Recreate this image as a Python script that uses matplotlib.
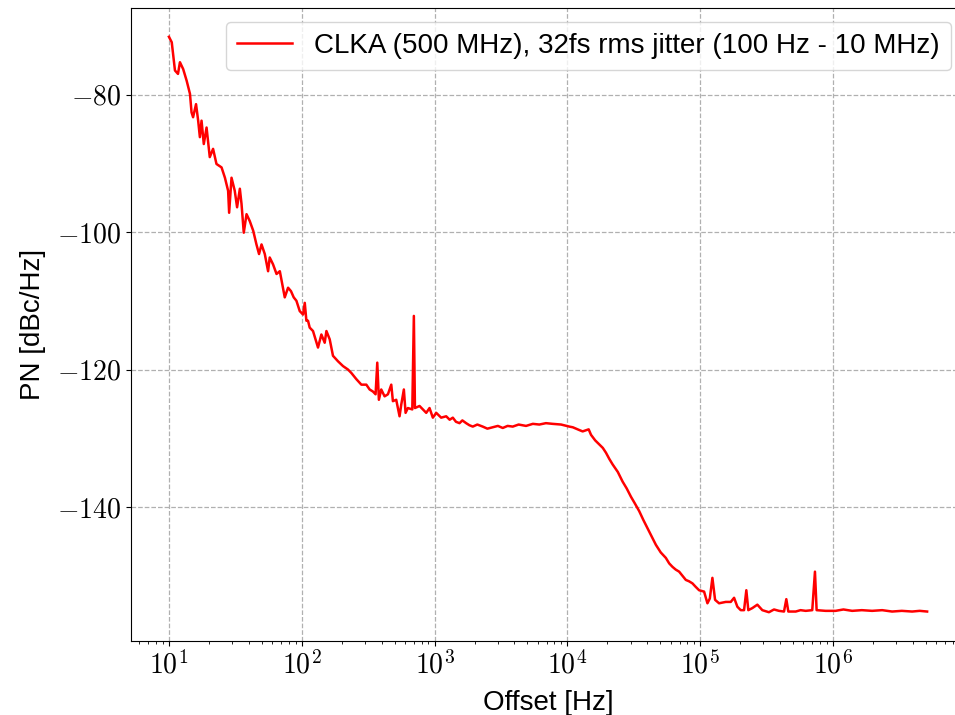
import numpy as np
import matplotlib
matplotlib.use('Agg')
import matplotlib.pyplot as plt
from matplotlib.ticker import FuncFormatter

# phase noise trace
freq = [10, 10.5, 11.1, 11.7, 12.1, 12.8, 13.6, 14.4, 14.8, 15.2, 16.0, 16.6, 17.1, 17.6,
        18.3, 19.2, 20.3, 21.5, 22.8, 24.9, 26.4, 27.9, 28.4, 29.6, 31.3, 32.6, 34.2, 35.2,
        36.6, 38.4, 40.6, 43.1, 45.6, 47.7, 49.8, 52.7, 55.8, 57.4, 60.8, 64.6, 68.4, 74.5,
        78.9, 83.0, 87.0, 91.2, 96.6, 102.3, 105.4, 108.4, 111.5, 114.8, 121.6, 132.6, 140.6,
        148.9, 153.4, 162.4, 171.9, 187.5, 204.6, 223, 236.4, 257.8, 281.2, 306.5, 324.5,
        343.6, 359.8, 370.5, 381, 397, 420.7, 445.6, 472.3, 485.8, 514.7, 545.3, 561.6, 587.5,
        605.3, 629.8, 680, 698.7, 712, 771, 816.5, 866, 916.9, 971,
        1030, 1122, 1224, 1300, 1373, 1450, 1542, 1620, 1730, 1830, 1941, 2100, 2307, 2500,
        2742, 3000, 3263, 3550, 3880, 4300, 4887, 5500, 6152, 6900, 7745, 8970, 10360, 11000,
        11620, 12300, 13040, 14000, 14480, 15080, 16200, 17410, 18500, 19540, 20700, 21930,
        24000, 26070, 28000, 30130, 32300, 34780, 37400, 40170, 43200, 46440, 50500, 55190,
        58500, 61910, 65500, 69500, 73600, 78000, 82500, 87500, 92500,
        98200, 107100, 113500, 118300, 123700, 129600, 138900,
        156000, 170100, 180200, 190700, 202200, 214200, 222800, 230600, 247200, 269700,
        294000, 329700, 360000, 392300, 428200, 445700, 461400, 524600, 570000, 623900,
        698700, 732300, 753700, 880800, 1.047e6, 1.2e6, 1.396e6, 1.65e6, 1.973e6, 2.35e6,
        2.79e6, 3.3e6, 3.95e6, 4.5e6, 5.12e6]
pn = [-71.6, -72.4, -76.5, -77.0, -75.3, -76.3, -78.0, -79.9, -82.6, -83.3, -81.4, -83.8,
      -86.2, -83.8, -87.2, -84.8, -89.1, -87.9, -90.1, -90.6, -92.1, -94.0, -97.2, -92.1,
      -94.0, -96.4, -93.7, -95.9, -100.1, -97.4, -98.4, -99.8, -101.8, -103.2, -101.8,
      -103.2, -105.7, -103.7, -104.7, -106.1, -105.7, -109.5, -108.1, -108.6, -109.5,
      -110.0, -111.5, -112.0, -110.3, -112.9, -112.9, -113.9, -114.4, -116.8, -114.9,
      -116.1, -114.4, -115.6, -118.0, -118.8, -119.5, -120.0, -120.5, -121.4, -122.2,
      -122.2, -122.9, -123.2, -123.6, -119.0, -124.4, -122.9, -123.9, -123.6, -122.2,
      -124.6, -124.4, -126.8, -125.1, -122.9, -126.3, -125.6, -125.8, -112.2, -125.6,
      -125.3, -125.8, -126.3, -125.6, -127.0,
      -126.3, -127.0, -126.8, -127.3, -127.0, -127.6, -127.8, -127.4, -127.8, -128.1,
      -128.3, -128.0, -128.3, -128.6, -128.4, -128.2, -128.5, -128.2, -128.3, -128.0,
      -128.2, -127.9, -128.0, -127.8, -127.9, -128.0, -128.3, -128.4, -128.6, -128.8,
      -129.0, -128.8, -128.7, -129.5, -130.3, -130.9, -131.4, -132.1, -133.0, -133.8,
      -134.9, -136.3, -137.3, -138.5, -139.5, -140.6, -141.9, -143.1, -144.3, -145.5,
      -146.6, -147.4, -148.2, -148.7, -149.1, -149.4, -150.0, -150.6, -150.8, -151.1,
      -151.6, -152.1, -152.3, -154.0, -153.3, -150.3, -153.5, -154.0,
      -153.8, -153.8, -153.2, -154.5, -155.0, -155.0, -152.1, -155.0, -154.7, -154.2,
      -155.0, -155.3, -154.9, -155.1, -155.2, -153.4, -155.2, -155.2, -155.0, -155.1,
      -155.0, -149.4, -155.0, -155.1, -155.1, -154.9, -155.1, -155.0, -155.1, -155.0,
      -155.2, -155.1, -155.2, -155.1, -155.2]

label = 'CLKA (500 MHz), 32fs rms jitter (100 Hz - 10 MHz)'

plt.rcParams['font.family'] = ['Liberation Sans', 'DejaVu Sans']
plt.rcParams['font.size'] = 20
plt.rcParams['mathtext.fontset'] = 'cm'

fig = plt.figure(figsize=(9.55, 7.15), dpi=100)
ax = fig.add_axes([0.1372, 0.1035, 0.8733, 0.8853])

ax.semilogx(freq, pn, color='red', linewidth=1.8, label=label)
ax.grid(True, which='major', linestyle='--', color='#b0b0b0', linewidth=0.9)
ax.set_xlabel('Offset [Hz]', labelpad=8)
ax.set_ylabel('PN [dBc/Hz]', labelpad=8)
ax.set_yticks([-80, -100, -120, -140])
ax.xaxis.set_major_formatter(FuncFormatter(lambda v, p: r'$10^{%d}$' % round(np.log10(v))))
ax.yaxis.set_major_formatter(FuncFormatter(lambda v, p: r'$%d$' % v))
ax.legend(loc='upper right')

fig.savefig('out.png', dpi=100)
